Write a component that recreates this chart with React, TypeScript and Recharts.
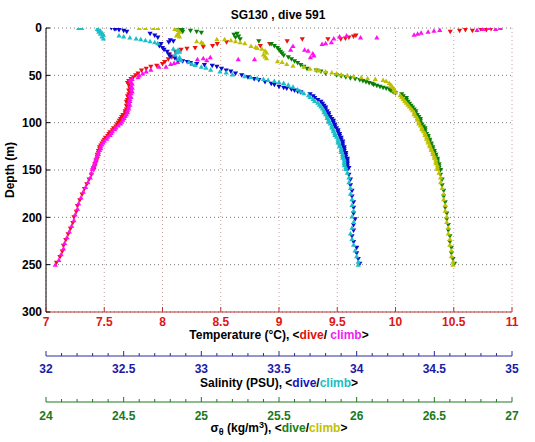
import { ScatterChart, Scatter, XAxis, YAxis, CartesianGrid } from "recharts";

const FONT = "'Liberation Sans', Arial, Helvetica, sans-serif";

const depthTicks = [0, 50, 100, 150, 200, 250, 300];
const tempTicks = [7, 7.5, 8, 8.5, 9, 9.5, 10, 10.5, 11];
const salTicks = [
  32, 32.1, 32.2, 32.3, 32.4, 32.5, 32.6, 32.7, 32.8, 32.9, 33, 33.1, 33.2, 33.3, 33.4, 33.5,
  33.6, 33.7, 33.8, 33.9, 34, 34.1, 34.2, 34.3, 34.4, 34.5, 34.6, 34.7, 34.8, 34.9, 35,
];
const sigTicks = [
  24, 24.1, 24.2, 24.3, 24.4, 24.5, 24.6, 24.7, 24.8, 24.9, 25, 25.1, 25.2, 25.3, 25.4, 25.5,
  25.6, 25.7, 25.8, 25.9, 26, 26.1, 26.2, 26.3, 26.4, 26.5, 26.6, 26.7, 26.8, 26.9, 27,
];

// [depth (m), value]
const tempDive: [number, number][] = [
  [1, 10.82], [2, 10.78], [1, 10.73], [3, 10.66], [2, 10.6], [4, 10.47], [3, 10.55],
  [8, 9.66], [9, 9.64], [10, 9.6], [11, 9.57], [12, 9.53], [12, 9.42], [12, 9.2], [14, 9.07],
  [17, 8.92], [19, 8.84], [15, 8.55], [17, 8.47], [19, 8.43], [20, 8.35], [21, 8.28], [22, 8.21],
  [23, 8.16], [25, 8.11], [28, 8.06], [31, 8.08], [33, 8.05], [36, 8.02], [38, 8.0], [40, 7.95],
  [41, 7.9], [43, 7.86], [45, 7.82], [48, 7.79], [50, 7.77], [52, 7.75],
  [54, 7.73], [56, 7.71], [58, 7.7], [60, 7.71], [62, 7.72], [64, 7.72], [66, 7.71], [68, 7.72],
  [70, 7.71], [72, 7.7], [74, 7.71], [76, 7.7], [78, 7.69], [80, 7.7], [82, 7.69], [84, 7.7],
  [86, 7.69], [88, 7.68], [90, 7.68], [92, 7.66], [94, 7.65], [96, 7.64], [98, 7.63], [100, 7.62],
  [102, 7.61], [104, 7.6], [106, 7.58], [108, 7.57], [110, 7.55], [112, 7.54], [114, 7.53],
  [116, 7.51], [118, 7.5], [120, 7.49], [122, 7.48], [124, 7.47], [126, 7.46], [128, 7.46],
  [130, 7.45], [132, 7.45], [134, 7.44], [136, 7.44], [138, 7.44], [140, 7.43], [142, 7.43],
  [144, 7.42], [146, 7.42], [148, 7.41], [150, 7.41],
  [155, 7.39], [160, 7.37], [165, 7.35], [170, 7.33], [176, 7.31], [182, 7.29], [188, 7.27],
  [194, 7.26], [200, 7.24], [206, 7.23], [212, 7.21], [218, 7.19], [224, 7.17], [230, 7.15],
  [236, 7.14], [242, 7.12], [248, 7.09],
];

const tempClimb: [number, number][] = [
  [0, 10.9], [1, 10.86], [0, 10.8], [2, 10.7], [1, 10.75], [2, 10.38], [3, 10.33], [4, 10.28],
  [5, 10.22], [6, 10.19], [7, 10.16], [10, 9.84], [10, 9.7], [8, 9.58], [9, 9.52], [11, 9.47],
  [15, 9.45], [16, 9.4], [17, 9.37], [19, 9.12], [23, 9.1], [23, 9.22], [24, 9.25], [27, 9.29],
  [29, 9.3], [31, 9.27], [33, 8.79], [33, 8.65], [31, 8.41], [32, 8.35], [33, 8.3], [34, 8.38],
  [36, 8.13], [37, 8.1], [38, 8.07], [41, 8.03], [41, 7.97], [44, 7.9], [46, 7.86], [48, 7.83],
  [50, 7.8], [52, 7.79],
  [54, 7.74], [55, 7.72], [57, 7.73], [59, 7.74], [61, 7.73], [63, 7.74], [65, 7.73], [67, 7.74],
  [69, 7.73], [71, 7.72], [73, 7.73], [75, 7.72], [77, 7.72], [79, 7.71], [81, 7.72], [83, 7.71],
  [85, 7.71], [87, 7.7], [89, 7.7], [91, 7.69], [93, 7.68], [95, 7.67], [97, 7.66], [99, 7.65],
  [101, 7.64], [103, 7.62], [105, 7.6], [107, 7.59], [109, 7.57], [111, 7.56], [113, 7.55],
  [115, 7.53], [117, 7.52], [119, 7.5], [121, 7.49], [123, 7.48], [125, 7.47], [127, 7.47],
  [129, 7.46], [131, 7.45], [133, 7.45], [135, 7.44], [137, 7.43], [139, 7.43], [141, 7.42],
  [143, 7.42], [145, 7.41], [147, 7.4], [149, 7.4],
  [153, 7.39], [158, 7.38], [163, 7.36], [168, 7.34], [173, 7.32], [179, 7.3], [185, 7.28],
  [191, 7.27], [197, 7.25], [203, 7.24], [209, 7.22], [215, 7.2], [221, 7.18], [227, 7.16],
  [233, 7.15], [239, 7.13], [245, 7.11], [250, 7.08],
];

const salDive: [number, number][] = [
  [0, 32.42], [1, 32.45], [2, 32.47], [3, 32.5], [4, 32.52], [1, 32.44],
  [6, 32.67], [8, 32.7], [10, 32.72], [13, 32.8], [14, 32.82], [15, 32.79], [17, 32.74],
  [19, 32.73], [21, 32.75], [23, 32.76], [25, 32.78], [28, 32.79], [30, 32.8], [32, 32.83],
  [34, 32.85], [35, 32.88], [36, 32.91], [37, 32.93], [38, 32.97], [39, 33.02], [40, 33.07],
  [41, 33.1], [43, 33.13], [45, 33.16], [46, 33.19], [48, 33.22], [50, 33.26], [52, 33.3],
  [54, 33.34], [55, 33.37], [57, 33.41], [59, 33.45], [60, 33.47], [62, 33.5], [63, 33.53],
  [64, 33.55], [65, 33.58], [66, 33.6], [67, 33.62], [68, 33.64],
  [70, 33.7], [72, 33.72], [74, 33.73], [76, 33.75], [78, 33.77], [80, 33.78], [82, 33.79],
  [84, 33.8], [86, 33.8], [88, 33.81], [90, 33.82], [92, 33.82], [94, 33.83], [96, 33.84],
  [98, 33.85], [100, 33.85], [102, 33.86], [104, 33.86], [106, 33.87], [108, 33.88], [110, 33.88],
  [112, 33.89], [114, 33.89], [116, 33.9], [118, 33.9], [120, 33.91], [122, 33.91], [124, 33.91],
  [126, 33.92], [128, 33.92], [130, 33.92], [132, 33.93], [134, 33.93], [136, 33.93],
  [138, 33.94], [140, 33.94], [142, 33.94], [144, 33.94], [146, 33.94], [148, 33.95], [150, 33.94],
  [155, 33.95], [160, 33.96], [166, 33.96], [172, 33.97], [178, 33.97], [184, 33.98], [190, 33.98],
  [196, 33.98], [202, 33.99], [208, 33.98], [214, 33.98], [220, 33.97], [226, 33.98], [232, 34.0],
  [238, 34.0], [244, 34.01], [249, 34.02],
];

const salClimb: [number, number][] = [
  [0, 32.21], [0, 32.23], [1, 32.33], [2, 32.34], [3, 32.35], [4, 32.34], [5, 32.36], [6, 32.35],
  [7, 32.37], [9, 32.36], [11, 32.37], [8, 32.47], [9, 32.5], [10, 32.54], [11, 32.58],
  [12, 32.61], [13, 32.64], [14, 32.67], [15, 32.7], [16, 32.72], [22, 32.82], [23, 32.85],
  [25, 32.86], [26, 32.84], [28, 32.83], [31, 32.86], [33, 32.85], [34, 32.87], [36, 32.92],
  [38, 32.94], [39, 32.96], [41, 33.0], [42, 33.03], [44, 33.06], [46, 33.12], [47, 33.16],
  [49, 33.2], [51, 33.28], [52, 33.32], [53, 33.36], [54, 33.4], [55, 33.43], [56, 33.47],
  [57, 33.5], [58, 33.53], [60, 33.56], [62, 33.59], [65, 33.62], [67, 33.64], [69, 33.66],
  [71, 33.69], [73, 33.7], [75, 33.72], [77, 33.73], [79, 33.75], [81, 33.76], [83, 33.77],
  [85, 33.78], [87, 33.79], [89, 33.79], [91, 33.8], [93, 33.81], [95, 33.81], [97, 33.82],
  [99, 33.82], [101, 33.83], [103, 33.84], [105, 33.84], [107, 33.85], [109, 33.85], [111, 33.86],
  [113, 33.86], [115, 33.87], [117, 33.88], [119, 33.88], [121, 33.88], [123, 33.89], [125, 33.89],
  [127, 33.9], [129, 33.9], [131, 33.9], [133, 33.91], [135, 33.91], [137, 33.91], [139, 33.92],
  [141, 33.92], [143, 33.92], [145, 33.92], [147, 33.93], [149, 33.93],
  [153, 33.94], [158, 33.95], [163, 33.95], [169, 33.96], [175, 33.96], [181, 33.97], [187, 33.97],
  [193, 33.98], [199, 33.97], [205, 33.98], [211, 33.97], [217, 33.96], [223, 33.97], [229, 33.98],
  [235, 33.99], [241, 34.0], [247, 34.01], [250, 34.01],
];

const sigDive: [number, number][] = [
  [0, 24.83], [1, 24.85], [2, 24.87], [3, 24.86], [4, 24.88], [1, 24.88], [3, 24.93], [4, 24.97],
  [5, 25.0], [6, 25.23], [7, 25.21], [9, 25.24], [10, 25.22], [12, 25.25], [14, 25.37],
  [17, 25.45], [19, 25.47], [21, 25.49], [23, 25.5], [25, 25.51], [27, 25.52], [29, 25.53],
  [31, 25.56], [33, 25.58], [35, 25.6], [37, 25.62], [39, 25.64], [41, 25.66], [43, 25.68],
  [45, 25.74], [46, 25.77], [48, 25.8], [50, 25.87], [51, 25.9], [52, 25.93], [53, 25.96],
  [54, 25.99], [55, 26.02], [56, 26.04], [57, 26.06], [58, 26.08], [59, 26.1], [60, 26.11],
  [61, 26.13], [62, 26.15], [63, 26.17], [64, 26.19], [65, 26.21], [66, 26.22], [67, 26.23],
  [68, 26.24], [69, 26.25],
  [70, 26.29], [72, 26.3], [74, 26.32], [76, 26.32], [78, 26.33], [80, 26.34], [82, 26.35],
  [84, 26.36], [86, 26.37], [88, 26.38], [90, 26.38], [92, 26.39], [94, 26.4], [96, 26.41],
  [98, 26.41], [100, 26.41], [102, 26.42], [104, 26.43], [106, 26.44], [108, 26.44], [110, 26.44],
  [112, 26.45], [114, 26.46], [116, 26.46], [118, 26.47], [120, 26.47], [122, 26.48], [124, 26.48],
  [126, 26.49], [128, 26.49], [130, 26.5], [132, 26.5], [134, 26.51], [136, 26.51], [138, 26.52],
  [140, 26.52], [142, 26.52], [144, 26.53], [146, 26.53], [148, 26.53], [150, 26.54],
  [155, 26.54], [160, 26.55], [166, 26.55], [172, 26.56], [178, 26.56], [184, 26.57], [190, 26.57],
  [196, 26.58], [202, 26.58], [208, 26.59], [214, 26.59], [220, 26.6], [226, 26.6], [232, 26.61],
  [238, 26.61], [244, 26.62], [249, 26.63],
];

const sigClimb: [number, number][] = [
  [0, 24.6], [0, 24.64], [0, 24.69], [0, 24.72], [1, 24.83], [2, 24.85], [4, 24.86], [6, 24.85],
  [8, 24.84], [9, 24.86], [14, 24.97], [15, 25.0], [16, 25.01], [12, 25.1], [12, 25.15],
  [13, 25.19], [14, 25.22], [15, 25.25], [16, 25.28], [19, 25.32], [20, 25.35], [21, 25.36],
  [22, 25.39], [24, 25.41], [26, 25.42], [28, 25.4], [30, 25.41], [32, 25.42], [35, 25.49],
  [36, 25.52], [38, 25.55], [40, 25.59], [41, 25.66], [43, 25.7], [44, 25.74], [45, 25.76],
  [46, 25.8], [47, 25.84], [48, 25.87], [49, 25.9], [50, 25.94], [51, 25.98], [52, 26.03],
  [53, 26.07], [54, 26.12], [55, 26.17], [56, 26.19], [58, 26.21], [60, 26.22], [62, 26.23],
  [64, 26.24], [66, 26.24], [68, 26.25],
  [71, 26.28], [73, 26.29], [75, 26.3], [77, 26.31], [79, 26.32], [81, 26.33], [83, 26.34],
  [85, 26.35], [87, 26.36], [89, 26.37], [91, 26.37], [93, 26.38], [95, 26.39], [97, 26.39],
  [99, 26.4], [101, 26.4], [103, 26.41], [105, 26.42], [107, 26.42], [109, 26.43], [111, 26.44],
  [113, 26.44], [115, 26.45], [117, 26.45], [119, 26.46], [121, 26.46], [123, 26.47], [125, 26.47],
  [127, 26.48], [129, 26.48], [131, 26.49], [133, 26.49], [135, 26.5], [137, 26.5], [139, 26.51],
  [141, 26.51], [143, 26.51], [145, 26.52], [147, 26.52], [149, 26.52],
  [153, 26.53], [158, 26.54], [163, 26.54], [169, 26.55], [175, 26.56], [181, 26.56], [187, 26.57],
  [193, 26.57], [199, 26.58], [205, 26.58], [211, 26.59], [217, 26.59], [223, 26.6], [229, 26.6],
  [235, 26.61], [241, 26.61], [247, 26.62], [250, 26.62],
];

const toPts = (rows: [number, number][]) => rows.map(([d, v]) => ({ x: v, y: d }));

const TriDown = (p: any) => (
  <polygon
    points={`${p.cx - 2.6},${p.cy - 2} ${p.cx + 2.6},${p.cy - 2} ${p.cx},${p.cy + 2.5}`}
    fill={p.fill}
  />
);
const TriUp = (p: any) => (
  <polygon
    points={`${p.cx - 2.6},${p.cy + 2} ${p.cx + 2.6},${p.cy + 2} ${p.cx},${p.cy - 2.5}`}
    fill={p.fill}
  />
);

const isMajor = (v: number) => Math.abs(v * 2 - Math.round(v * 2)) < 1e-6;

// ticks point up into the axis band, labels underneath
const bottomTick = (color: string, labelColor: string, labelDy: number) => (props: any) => {
  const { x, y, payload } = props;
  const major = isMajor(payload.value);
  return (
    <g>
      <line x1={x} x2={x} y1={y} y2={y - (major ? 5 : 3)} stroke={color} />
      {major && (
        <text x={x} y={y + labelDy} textAnchor="middle" fill={labelColor} fontSize={12}
          fontWeight="bold" fontFamily={FONT}>
          {String(payload.value)}
        </text>
      )}
    </g>
  );
};

const topTick = (props: any) => (
  <line x1={props.x} x2={props.x} y1={props.y} y2={props.y + 4} stroke="#c03030" />
);

const leftTick = (props: any) => (
  <g>
    <line x1={props.x} x2={props.x + 4} y1={props.y} y2={props.y} stroke="#000" />
    <text x={props.x - 4} y={props.y + 4.3} textAnchor="end" fontSize={12} fontWeight="bold"
      fontFamily={FONT} fill="#000">
      {props.payload.value}
    </text>
  </g>
);

const rightTick = (props: any) => (
  <line x1={props.x} x2={props.x - 4} y1={props.y} y2={props.y} stroke="#000" />
);

const titleStyle = { fontSize: 12, fontWeight: "bold" as const, fontFamily: FONT };

const TempLabel = ({ viewBox }: any) => (
  <text x={viewBox.x + viewBox.width / 2} y={viewBox.y + 27} textAnchor="middle" fill="#000" {...titleStyle}>
    <tspan>Temperature (°C), &lt;</tspan>
    <tspan fill="#e01010">dive</tspan>
    <tspan>/ </tspan>
    <tspan fill="#ee22ee">climb</tspan>
    <tspan>&gt;</tspan>
  </text>
);

const SalLabel = ({ viewBox }: any) => (
  <text x={viewBox.x + viewBox.width / 2} y={viewBox.y + 31} textAnchor="middle" fill="#000" {...titleStyle}>
    <tspan>Salinity (PSU), &lt;</tspan>
    <tspan fill="#1515c0">dive</tspan>
    <tspan>/</tspan>
    <tspan fill="#20bcc4">climb</tspan>
    <tspan>&gt;</tspan>
  </text>
);

const SigLabel = ({ viewBox }: any) => (
  <text x={viewBox.x + viewBox.width / 2} y={viewBox.y + 30} textAnchor="middle" fill="#000" {...titleStyle}>
    <tspan>σ</tspan>
    <tspan fontSize={9} dy={3}>θ</tspan>
    <tspan dy={-3}> (kg/m</tspan>
    <tspan fontSize={9} dy={-4}>3</tspan>
    <tspan dy={4}>), &lt;</tspan>
    <tspan fill="#1a801a">dive</tspan>
    <tspan>/</tspan>
    <tspan fill="#c0c000">climb</tspan>
    <tspan>&gt;</tspan>
  </text>
);

const DepthLabel = () => (
  <text x={14} y={170} transform="rotate(-90 14 170)" textAnchor="middle" fill="#000" {...titleStyle}>
    Depth (m)
  </text>
);

// bottom axes are stacked by id order: a (temperature) nearest the plot, then b, then c
export default function App() {
  return (
    <div style={{ position: "absolute", left: 0, top: 0, width: 535, height: 442, background: "#fff" }}>
      <div
        style={{
          position: "absolute", left: 0, top: 8, width: 556, textAlign: "center",
          lineHeight: "14px", ...titleStyle, color: "#000",
        }}
      >
        SG130 , dive 591
      </div>
      <ScatterChart width={535} height={442} margin={{ top: 28, right: 23, bottom: 0, left: 0 }}>
        <CartesianGrid xAxisId="a" yAxisId="d" vertical={false} stroke="#7a7a7a" strokeDasharray="1 3" />
        <CartesianGrid xAxisId="a" yAxisId="d" horizontal={false} stroke="#c8a0a0" strokeDasharray="1 3" />
        <XAxis xAxisId="top" orientation="top" type="number" dataKey="x" domain={[7, 11]}
          ticks={tempTicks} interval={0} height={0} tickSize={0} tickMargin={0} tickLine={false}
          tick={topTick} axisLine={{ stroke: "#c03030" }} allowDataOverflow />
        <XAxis xAxisId="a" type="number" dataKey="x" domain={[7, 11]} ticks={tempTicks} interval={0}
          height={44} tickSize={0} tickMargin={0} tickLine={false}
          tick={bottomTick("#c03030", "#dd1515", 14)} axisLine={{ stroke: "#c03030" }}
          label={{ content: TempLabel }} allowDataOverflow />
        <XAxis xAxisId="b" type="number" dataKey="x" domain={[32, 35]} ticks={salTicks} interval={0}
          height={46} tickSize={0} tickMargin={0} tickLine={false}
          tick={bottomTick("#2a2aa0", "#1a1aa8", 16.5)} axisLine={{ stroke: "#2a2aa0" }}
          label={{ content: SalLabel }} allowDataOverflow />
        <XAxis xAxisId="c" type="number" dataKey="x" domain={[24, 27]} ticks={sigTicks} interval={0}
          height={40} tickSize={0} tickMargin={0} tickLine={false}
          tick={bottomTick("#1e7a1e", "#1a7a1a", 17.5)} axisLine={{ stroke: "#1e7a1e" }}
          label={{ content: SigLabel }} allowDataOverflow />
        <YAxis yAxisId="d" type="number" dataKey="y" domain={[0, 300]} reversed ticks={depthTicks}
          interval={0} width={46} tickSize={0} tickMargin={0} tickLine={false} tick={leftTick}
          axisLine={{ stroke: "#000" }} label={{ content: DepthLabel }} allowDataOverflow />
        <YAxis yAxisId="r" orientation="right" type="number" dataKey="y" domain={[0, 300]} reversed
          ticks={depthTicks} interval={0} width={0} tickSize={0} tickMargin={0} tickLine={false}
          tick={rightTick} axisLine={{ stroke: "#000" }} allowDataOverflow />
        <Scatter xAxisId="a" yAxisId="d" data={toPts(tempDive)} fill="#ee1111" shape={TriDown} isAnimationActive={false} />
        <Scatter xAxisId="a" yAxisId="d" data={toPts(tempClimb)} fill="#ff10f0" shape={TriUp} isAnimationActive={false} />
        <Scatter xAxisId="b" yAxisId="d" data={toPts(salDive)} fill="#0a0ad0" shape={TriDown} isAnimationActive={false} />
        <Scatter xAxisId="b" yAxisId="d" data={toPts(salClimb)} fill="#18c0c8" shape={TriUp} isAnimationActive={false} />
        <Scatter xAxisId="c" yAxisId="d" data={toPts(sigDive)} fill="#0a800a" shape={TriDown} isAnimationActive={false} />
        <Scatter xAxisId="c" yAxisId="d" data={toPts(sigClimb)} fill="#c0c000" shape={TriUp} isAnimationActive={false} />
      </ScatterChart>
    </div>
  );
}
